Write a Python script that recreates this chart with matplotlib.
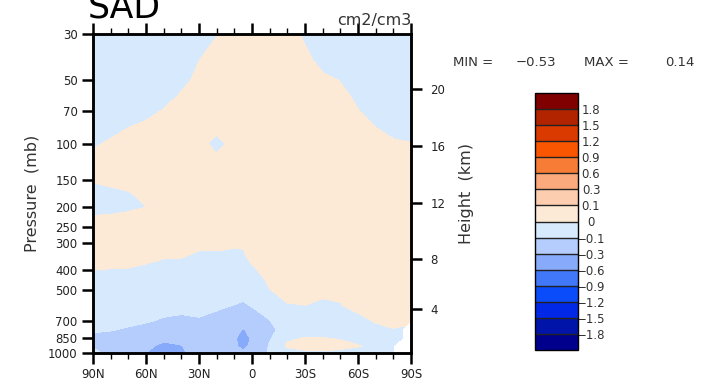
import numpy as np
import matplotlib
matplotlib.use("Agg")
import matplotlib.pyplot as plt
from matplotlib.colors import ListedColormap, BoundaryNorm
from matplotlib.ticker import FixedLocator, NullLocator

plt.rcParams['font.family'] = ['DejaVu Sans']

# latitude columns (90N -> 90S) and pressure rows (mb)
lats = [90, 80, 70, 60, 50, 40, 30, 20, 10, 5, 0, -10, -20, -30, -40, -50, -60, -70, -80, -85, -90]
plev = [30, 40, 50, 60, 70, 85, 100, 120, 150, 175, 200, 250, 300, 350,
        400, 450, 500, 600, 700, 775, 850, 925, 1000]

nan = np.nan
# SAD difference field, cm2/cm3
sad = [
    [-0.06, -0.06, -0.06, -0.05, -0.05, -0.04, -0.03, -0.003, 0.04, 0.045, 0.05, 0.05, 0.03, -0.012, -0.03, -0.04, -0.05, -0.05, -0.05, -0.05, -0.05],
    [-0.06, -0.06, -0.05, -0.05, -0.04, -0.03, -0.001, 0.03, 0.05, 0.055, 0.06, 0.06, 0.05, 0.02, -0.024, -0.04, -0.05, -0.05, -0.05, -0.05, -0.05],
    [-0.06, -0.05, -0.05, -0.04, -0.03, -0.022, 0.02, 0.04, 0.05, 0.055, 0.06, 0.06, 0.05, 0.04, 0.018, -0.002, -0.03, -0.04, -0.05, -0.05, -0.05],
    [-0.05, -0.05, -0.04, -0.035, -0.028, 0.012, 0.03, 0.04, 0.05, 0.055, 0.06, 0.06, 0.05, 0.05, 0.03, 0.015, -0.01, -0.03, -0.04, -0.04, -0.04],
    [-0.05, -0.04, -0.03, -0.02, 0.005, 0.02, 0.03, 0.04, 0.05, 0.05, 0.05, 0.05, 0.05, 0.05, 0.04, 0.02, 0.002, -0.03, -0.04, -0.04, -0.04],
    [-0.03, -0.018, 0.002, 0.02, 0.03, 0.03, 0.04, 0.02, 0.04, 0.045, 0.05, 0.05, 0.05, 0.05, 0.05, 0.04, 0.02, 0.003, -0.02, -0.02, -0.02],
    [-0.01, 0.01, 0.03, 0.04, 0.04, 0.04, 0.03, -0.03, 0.03, 0.04, 0.05, 0.05, 0.05, 0.05, 0.05, 0.04, 0.03, 0.02, 0.01, 0.005, 0.003],
    [0.02, 0.03, 0.04, 0.04, 0.04, 0.04, 0.04, 0.025, 0.04, 0.045, 0.05, 0.05, 0.05, 0.05, 0.05, 0.05, 0.04, 0.03, 0.03, 0.03, 0.03],
    [0.005, 0.02, 0.03, 0.04, 0.04, 0.05, 0.05, 0.05, 0.05, 0.05, 0.05, 0.05, 0.05, 0.05, 0.05, 0.05, 0.05, 0.045, 0.04, 0.04, 0.04],
    [-0.03, -0.025, -0.01, 0.023, 0.04, 0.05, 0.05, 0.05, 0.05, 0.05, 0.05, 0.05, 0.05, 0.05, 0.05, 0.05, 0.05, 0.05, 0.045, 0.045, 0.045],
    [-0.03, -0.025, -0.015, -0.001, 0.02, 0.04, 0.05, 0.05, 0.05, 0.05, 0.05, 0.05, 0.05, 0.05, 0.05, 0.05, 0.05, 0.05, 0.05, 0.05, 0.05],
    [0.043, 0.045, 0.05, 0.05, 0.05, 0.05, 0.05, 0.05, 0.05, 0.05, 0.05, 0.05, 0.05, 0.05, 0.05, 0.05, 0.05, 0.05, 0.05, 0.05, 0.05],
    [0.03, 0.03, 0.03, 0.025, 0.02, 0.02, 0.01, 0.01, 0.005, 0.005, 0.02, 0.03, 0.04, 0.04, 0.04, 0.04, 0.04, 0.04, 0.04, 0.04, 0.04],
    [0.02, 0.02, 0.02, 0.01, 0.002, 0.001, -0.01, -0.01, -0.01, -0.008, 0.01, 0.03, 0.04, 0.04, 0.04, 0.04, 0.04, 0.04, 0.04, 0.04, 0.04],
    [0.002, -0.002, -0.003, -0.01, -0.015, -0.02, -0.03, -0.03, -0.03, -0.025, -0.008, 0.02, 0.03, 0.035, 0.03, 0.03, 0.03, 0.03, 0.03, 0.03, 0.03],
    [-0.04, -0.04, -0.04, -0.04, -0.04, -0.045, -0.045, -0.05, -0.05, -0.045, -0.04, 0.012, 0.025, 0.025, 0.02, 0.025, 0.03, 0.03, 0.03, 0.03, 0.03],
    [-0.05, -0.05, -0.05, -0.05, -0.05, -0.05, -0.05, -0.055, -0.06, -0.06, -0.05, -0.001, 0.01, 0.01, 0.005, 0.008, 0.02, 0.025, 0.025, 0.025, 0.025],
    [-0.06, -0.06, -0.065, -0.07, -0.07, -0.075, -0.07, -0.09, -0.105, -0.12, -0.098, -0.07, -0.003, -0.001, -0.005, -0.003, 0.01, 0.015, 0.02, 0.02, 0.02],
    [-0.08, -0.085, -0.08, -0.09, -0.11, -0.12, -0.11, -0.125, -0.16, -0.2, -0.16, -0.102, -0.04, -0.04, -0.035, -0.03, -0.012, 0.004, 0.01, 0.008, 0.01],
    [-0.09, -0.095, -0.11, -0.13, -0.16, -0.17, -0.15, -0.17, -0.22, -0.32, -0.22, -0.13, -0.05, -0.04, -0.04, -0.04, -0.04, -0.012, -0.002, -0.005, nan],
    [-0.12, -0.13, -0.16, -0.2, -0.23, -0.21, -0.18, -0.2, -0.25, -0.46, -0.25, -0.11, -0.01, 0.003, 0.003, -0.005, -0.03, -0.04, -0.03, -0.03, nan],
    [-0.11, -0.14, -0.18, -0.23, -0.38, -0.31, -0.2, -0.2, -0.24, -0.4, -0.22, -0.09, 0.01, 0.03, 0.03, 0.02, 0.005, -0.02, -0.03, nan, nan],
    [-0.08, -0.12, -0.18, -0.29, -0.53, -0.34, -0.2, -0.18, -0.15, -0.24, -0.16, -0.09, -0.03, -0.02, -0.015, -0.02, -0.03, -0.03, -0.03, nan, nan],
]

levels = [-1.8, -1.5, -1.2, -0.9, -0.6, -0.3, -0.1, 0, 0.1, 0.3, 0.6, 0.9, 1.2, 1.5, 1.8]
level_labels = ["\u22121.8", "\u22121.5", "\u22121.2", "\u22120.9", "\u22120.6", "\u22120.3", "\u22120.1",
                "0", "0.1", "0.3", "0.6", "0.9", "1.2", "1.5", "1.8"]
colors = ['#00008C', '#0014AA', '#0028E6', '#0A4BFA', '#4178FA', '#87AAFA', '#B4CDFC', '#D7E9FD',
          '#FDEAD6', '#FCCDAF', '#FAAA7D', '#F77D37', '#FA5500', '#DA3A00', '#B22400', '#800000']

p_ticks = [30, 50, 70, 100, 150, 200, 250, 300, 400, 500, 700, 850, 1000]
lat_ticks = [90, 60, 30, 0, -30, -60, -90]
lat_labels = ["90N", "60N", "30N", "0", "30S", "60S", "90S"]
z_ticks = [4, 8, 12, 16, 20]


def std_pressure(z_km):
    # US standard atmosphere
    z = z_km * 1000.0
    if z <= 11000:
        return 1013.25 * (1 - 2.25577e-5 * z) ** 5.25588
    return 226.32 * np.exp(-(z - 11000) / 6341.6)


cmap = ListedColormap(colors[1:-1])
cmap.set_under(colors[0])
cmap.set_over(colors[-1])
norm = BoundaryNorm(levels, cmap.N)

fig = plt.figure(figsize=(7.1, 3.87), dpi=100)
ax = fig.add_axes([93 / 710, 1 - 353 / 387, 318 / 710, 319 / 387])

data = np.ma.masked_invalid(np.array(sad))
cf = ax.contourf(lats, plev, data, levels=levels, cmap=cmap, norm=norm, extend='both')

ax.set_yscale('log')
ax.set_ylim(1000, 30)
ax.set_xlim(90, -90)
ax.yaxis.set_major_locator(FixedLocator(p_ticks))
ax.yaxis.set_minor_locator(NullLocator())
ax.set_yticklabels([str(p) for p in p_ticks])
ax.set_xticks(lat_ticks)
ax.set_xticklabels(lat_labels)
ax.xaxis.set_minor_locator(FixedLocator(list(range(-90, 91, 10))))
ax.tick_params(axis='both', which='major', direction='out', length=8, width=1.8,
               labelsize=8.5, top=True, right=False, pad=3, labelcolor='#222222')
ax.tick_params(axis='x', which='minor', direction='out', length=4, width=1, top=True)
for s in ax.spines.values():
    s.set_linewidth(1.8)
ax.set_ylabel("Pressure  (mb)", fontsize=11.5, color='#333333', labelpad=6)

ax2 = ax.twinx()
ax2.set_yscale('log')
ax2.set_ylim(1000, 30)
ax2.yaxis.set_major_locator(FixedLocator([std_pressure(z) for z in z_ticks]))
ax2.yaxis.set_minor_locator(NullLocator())
ax2.set_yticklabels([str(z) for z in z_ticks])
ax2.tick_params(axis='y', direction='out', length=8, width=1.8, labelsize=8.5, pad=6,
                labelcolor='#222222')
ax2.set_ylabel("Height  (km)", fontsize=11.5, color='#333333', labelpad=10)
for s in ax2.spines.values():
    s.set_linewidth(1.8)

fig.text(88 / 710, 1 - 18 / 387, "SAD", fontsize=25, va='baseline', ha='left')
fig.text(411 / 710, 1 - 25 / 387, "cm2/cm3", fontsize=11.5, va='baseline', ha='right', color='#333333')

ymm = 1 - 62 / 387
fig.text(453 / 710, ymm, "MIN =", fontsize=9.5, va='center', ha='left', color='#333333')
fig.text(516 / 710, ymm, "\u22120.53", fontsize=9.5, va='center', ha='left', color='#333333')
fig.text(584 / 710, ymm, "MAX =", fontsize=9.5, va='center', ha='left', color='#333333')
fig.text(694 / 710, ymm, "0.14", fontsize=9.5, va='center', ha='right', color='#333333')

cax = fig.add_axes([535 / 710, 1 - 350 / 387, 43 / 710, 257 / 387])
cb = fig.colorbar(cf, cax=cax, extend='both', extendrect=True, extendfrac=1 / 14,
                  drawedges=True, spacing='uniform', ticks=levels)
cb.set_ticklabels(level_labels)
cb.outline.set_linewidth(1)
cb.dividers.set_color('#222222')
cb.dividers.set_linewidth(1)
cax.tick_params(length=0, labelsize=8.5, pad=9.4)
for lab in cax.get_yticklabels():
    lab.set_ha('center')
    lab.set_color('#333333')

fig.savefig("out.png", dpi=100)
